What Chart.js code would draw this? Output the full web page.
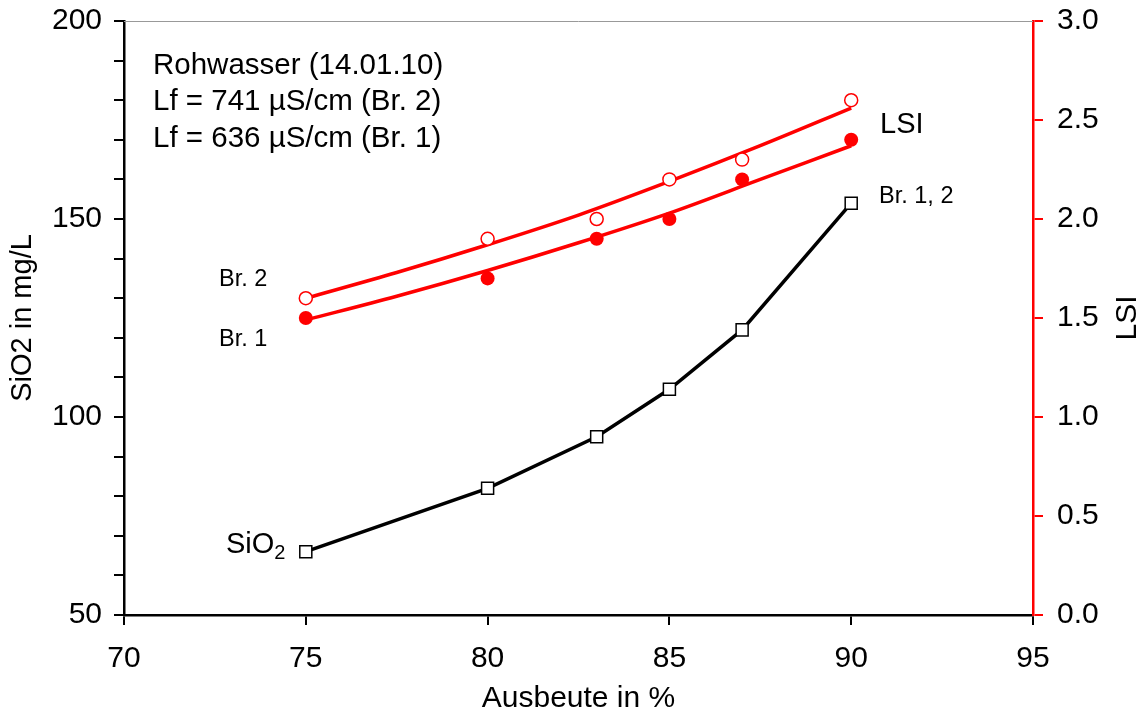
<!DOCTYPE html>
<html>
<head>
<meta charset="utf-8">
<script src="https://cdn.jsdelivr.net/npm/chart.js@4"></script>
<style>
  body { margin: 0; background: #fff; }
  #wrap { width: 1143px; height: 713px; }
</style>
</head>
<body>
<div id="wrap"><canvas id="lsiChart"></canvas></div>
<script>
// Messwerte Rohwasser
var ausbeute = [75, 80, 83, 85, 87, 90];
var sio2 = [66, 82, 95, 107, 122, 154];
var lsiBr2 = [1.6, 1.9, 2.0, 2.2, 2.3, 2.6];
var lsiBr1 = [1.5, 1.7, 1.9, 2.0, 2.2, 2.4];

// Ausgleichskurven LSI
var fitAusbeute = [75, 77.5, 80, 82.5, 85, 87.5, 90];
var fitBr2 = [1.60, 1.73, 1.87, 2.02, 2.19, 2.37, 2.56];
var fitBr1 = [1.49, 1.61, 1.74, 1.88, 2.03, 2.20, 2.37];

var xTicks = [70, 75, 80, 85, 90, 95];

var FONT = '"Liberation Sans", Arial, sans-serif';
var ROT = 'rgb(255, 0, 0)';

function pts(xs, ys) {
    return xs.map(function (x, i) { return { x: x, y: ys[i] }; });
}

// feste Achsenbreite, ohne Zusatzabstand oben/unten
function fixWidth(w) {
    return function (s) {
        s.width = w;
        s.paddingTop = 0;
        s.paddingBottom = 0;
    };
}

// Beschriftungen im Diagramm
var textPlugin = {
    id: 'texte',
    beforeDatasetsDraw: function (chart) {
        var ctx = chart.ctx, a = chart.chartArea;
        ctx.save();
        ctx.strokeStyle = '#999';
        ctx.lineWidth = 1;
        ctx.beginPath();
        ctx.moveTo(a.left, a.top + 0.5);
        ctx.lineTo(a.right, a.top + 0.5);
        ctx.stroke();
        ctx.restore();
    },
    afterDatasetsDraw: function (chart) {
        var ctx = chart.ctx, a = chart.chartArea;
        ctx.save();
        ctx.fillStyle = '#000';
        ctx.textBaseline = 'alphabetic';
        ctx.textAlign = 'left';
        ctx.font = '29.5px ' + FONT;
        ctx.fillText('Rohwasser (14.01.10)', a.left + 29, a.top + 53);
        ctx.fillText('Lf = 741 µS/cm (Br. 2)', a.left + 29, a.top + 89);
        ctx.fillText('Lf = 636 µS/cm (Br. 1)', a.left + 29, a.top + 126);
        ctx.font = '29px ' + FONT;
        ctx.fillText('LSI', a.left + 756, a.top + 112);
        ctx.fillText('SiO', a.left + 102, a.top + 532);
        var w = ctx.measureText('SiO').width;
        ctx.font = '20px ' + FONT;
        ctx.fillText('2', a.left + 102 + w, a.top + 538);
        ctx.font = '23.5px ' + FONT;
        ctx.fillText('Br. 1, 2', a.left + 755, a.top + 182);
        ctx.fillText('Br. 2', a.left + 95, a.top + 265);
        ctx.fillText('Br. 1', a.left + 95, a.top + 325);
        // Titel der rechten Achse
        ctx.font = '30px ' + FONT;
        ctx.translate(1128, (a.top + a.bottom) / 2);
        ctx.rotate(-Math.PI / 2);
        ctx.textAlign = 'center';
        ctx.textBaseline = 'middle';
        ctx.fillText('LSI', 0, 0);
        ctx.restore();
    }
};

var chart = new Chart(document.getElementById('lsiChart'), {
    type: 'line',
    data: {
        datasets: [
            {
                label: 'SiO2',
                data: pts(ausbeute, sio2),
                yAxisID: 'y',
                borderColor: '#000',
                borderWidth: 3.5,
                pointStyle: 'rect',
                pointRadius: 8.5,
                pointBackgroundColor: '#fff',
                pointBorderColor: '#000',
                pointBorderWidth: 1.5,
                order: 0
            },
            {
                label: 'LSI Br. 2',
                data: pts(ausbeute, lsiBr2),
                yAxisID: 'y2',
                showLine: false,
                pointStyle: 'circle',
                pointRadius: 6.5,
                pointBackgroundColor: '#fff',
                pointBorderColor: ROT,
                pointBorderWidth: 1.5,
                order: 0
            },
            {
                label: 'LSI Br. 1',
                data: pts(ausbeute, lsiBr1),
                yAxisID: 'y2',
                showLine: false,
                pointStyle: 'circle',
                pointRadius: 7,
                pointBackgroundColor: ROT,
                pointBorderColor: ROT,
                pointBorderWidth: 0,
                order: 0
            },
            {
                label: 'Fit Br. 2',
                data: pts(fitAusbeute, fitBr2),
                yAxisID: 'y2',
                borderColor: ROT,
                borderWidth: 3.5,
                pointRadius: 0,
                cubicInterpolationMode: 'monotone',
                order: 1
            },
            {
                label: 'Fit Br. 1',
                data: pts(fitAusbeute, fitBr1),
                yAxisID: 'y2',
                borderColor: ROT,
                borderWidth: 3.5,
                pointRadius: 0,
                cubicInterpolationMode: 'monotone',
                order: 1
            }
        ]
    },
    options: {
        responsive: true,
        maintainAspectRatio: false,
        animation: false,
        layout: { padding: { top: 21, left: 0, right: 0, bottom: 0 } },
        plugins: {
            legend: { display: false },
            tooltip: { enabled: false }
        },
        scales: {
            x: {
                type: 'linear',
                min: 70,
                max: 95,
                afterFit: function (s) {
                    s.height = 98;
                    s.paddingLeft = 0;
                    s.paddingRight = 0;
                },
                afterBuildTicks: function (s) {
                    s.ticks = xTicks.map(function (v) { return { value: v }; });
                },
                border: { color: '#000', width: 2.5 },
                grid: { drawOnChartArea: false, tickLength: 10, color: '#000', lineWidth: 2 },
                ticks: { color: '#000', padding: 16, font: { family: FONT, size: 30 }, maxRotation: 0 },
                title: {
                    display: true,
                    text: 'Ausbeute in %',
                    color: '#000',
                    font: { family: FONT, size: 30 },
                    padding: { top: 0, bottom: -4 }
                }
            },
            y: {
                position: 'left',
                min: 50,
                max: 200,
                afterFit: fixWidth(124),
                border: { color: '#000', width: 2.5 },
                grid: { drawOnChartArea: false, tickLength: 10, color: '#000', lineWidth: 2 },
                ticks: {
                    stepSize: 10,
                    autoSkip: false,
                    color: '#000',
                    padding: 12,
                    font: { family: FONT, size: 30 },
                    callback: function (v) { return v % 50 === 0 ? v : ''; }
                },
                title: {
                    display: true,
                    text: 'SiO2 in mg/L',
                    color: '#000',
                    font: { family: FONT, size: 29 },
                    padding: { top: 6, bottom: 0 }
                }
            },
            y2: {
                position: 'right',
                min: 0,
                max: 3,
                afterFit: fixWidth(110),
                border: { color: ROT, width: 2.5 },
                grid: { drawOnChartArea: false, tickLength: 10, color: ROT, lineWidth: 2 },
                ticks: {
                    stepSize: 0.5,
                    color: '#000',
                    padding: 14,
                    font: { family: FONT, size: 30 },
                    callback: function (v) { return v.toFixed(1); }
                }
            }
        }
    },
    plugins: [textPlugin]
});
</script>
</body>
</html>
